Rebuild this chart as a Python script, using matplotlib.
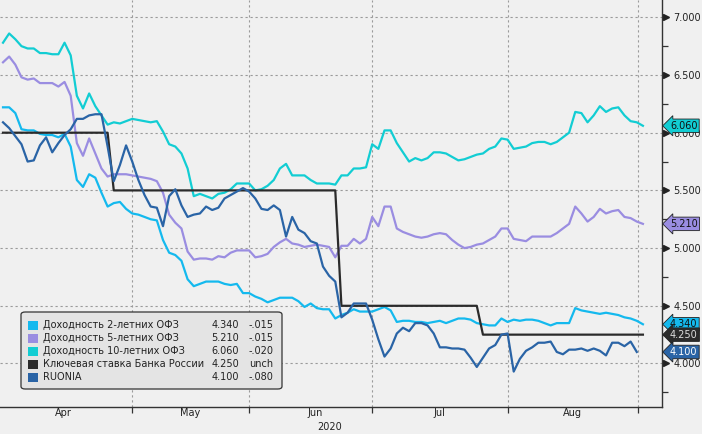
import numpy as np
import matplotlib.pyplot as plt
from matplotlib.patches import FancyBboxPatch, Rectangle

# trading days Apr-Aug 2020, one value per day
ofz_2y = [6.22, 6.22, 6.17, 6.03, 6.02, 6.02, 5.99, 5.98, 5.98, 5.96,
          5.99, 5.88, 5.59, 5.53, 5.64, 5.61, 5.48, 5.36, 5.39, 5.40,
          5.34, 5.30, 5.29, 5.27, 5.25, 5.24, 5.07, 4.96, 4.94, 4.89,
          4.73, 4.67, 4.69, 4.71, 4.71, 4.71, 4.69, 4.68, 4.69, 4.61,
          4.61, 4.58, 4.56, 4.53, 4.55, 4.57, 4.57, 4.57, 4.54, 4.49,
          4.52, 4.48, 4.47, 4.47, 4.39, 4.42, 4.44, 4.47, 4.45, 4.45,
          4.45, 4.47, 4.49, 4.46, 4.36, 4.37, 4.37, 4.36, 4.36, 4.35,
          4.36, 4.37, 4.35, 4.37, 4.39, 4.39, 4.38, 4.35, 4.34, 4.33,
          4.33, 4.39, 4.36, 4.38, 4.37, 4.38, 4.38, 4.37, 4.35, 4.33,
          4.35, 4.35, 4.35, 4.48, 4.46, 4.45, 4.44, 4.43, 4.44, 4.43,
          4.42, 4.40, 4.39, 4.37, 4.34]
ofz_5y = [6.61, 6.66, 6.59, 6.48, 6.46, 6.47, 6.43, 6.43, 6.43, 6.40,
          6.44, 6.32, 5.91, 5.80, 5.95, 5.82, 5.69, 5.62, 5.64, 5.64,
          5.64, 5.63, 5.62, 5.61, 5.60, 5.58, 5.48, 5.29, 5.22, 5.17,
          4.97, 4.90, 4.91, 4.91, 4.90, 4.93, 4.92, 4.96, 4.98, 4.98,
          4.98, 4.92, 4.93, 4.95, 5.01, 5.05, 5.08, 5.04, 5.03, 5.01,
          5.02, 5.03, 5.02, 5.01, 4.92, 5.02, 5.02, 5.08, 5.04, 5.08,
          5.27, 5.19, 5.36, 5.36, 5.17, 5.14, 5.12, 5.10, 5.09, 5.10,
          5.12, 5.13, 5.12, 5.07, 5.03, 5.00, 5.01, 5.03, 5.04, 5.07,
          5.10, 5.17, 5.17, 5.08, 5.07, 5.06, 5.10, 5.10, 5.10, 5.10,
          5.13, 5.17, 5.21, 5.36, 5.30, 5.23, 5.27, 5.34, 5.30, 5.32,
          5.33, 5.27, 5.26, 5.23, 5.21]
ofz_10y = [6.78, 6.86, 6.81, 6.75, 6.73, 6.73, 6.69, 6.69, 6.68, 6.68,
           6.78, 6.67, 6.32, 6.21, 6.34, 6.23, 6.15, 6.07, 6.09, 6.08,
           6.10, 6.12, 6.11, 6.10, 6.09, 6.10, 6.01, 5.90, 5.88, 5.82,
           5.69, 5.45, 5.47, 5.45, 5.43, 5.47, 5.48, 5.51, 5.56, 5.56,
           5.56, 5.50, 5.51, 5.54, 5.59, 5.69, 5.73, 5.63, 5.63, 5.63,
           5.59, 5.56, 5.56, 5.56, 5.55, 5.63, 5.63, 5.69, 5.69, 5.70,
           5.90, 5.86, 6.02, 6.02, 5.91, 5.83, 5.75, 5.78, 5.76, 5.78,
           5.83, 5.83, 5.82, 5.79, 5.76, 5.77, 5.79, 5.81, 5.82, 5.86,
           5.88, 5.95, 5.94, 5.86, 5.87, 5.88, 5.91, 5.92, 5.92, 5.90,
           5.92, 5.96, 6.00, 6.18, 6.17, 6.09, 6.15, 6.23, 6.18, 6.21,
           6.22, 6.15, 6.10, 6.09, 6.06]
key_rate = [6.00] * 18 + [5.50] * 37 + [4.50] * 23 + [4.25] * 27
ruonia = [6.09, 6.04, 5.97, 5.90, 5.75, 5.76, 5.89, 5.96, 5.83, 5.91,
          5.98, 6.03, 6.12, 6.12, 6.15, 6.16, 6.16, 5.88, 5.58, 5.72,
          5.89, 5.75, 5.59, 5.46, 5.36, 5.35, 5.19, 5.45, 5.51, 5.37,
          5.27, 5.29, 5.30, 5.36, 5.33, 5.35, 5.43, 5.46, 5.49, 5.52,
          5.49, 5.43, 5.34, 5.33, 5.37, 5.33, 5.10, 5.27, 5.16, 5.13,
          5.06, 5.04, 4.84, 4.76, 4.71, 4.40, 4.44, 4.52, 4.52, 4.52,
          4.38, 4.21, 4.06, 4.13, 4.26, 4.31, 4.28, 4.35, 4.35, 4.33,
          4.26, 4.14, 4.14, 4.13, 4.13, 4.12, 4.05, 3.97, 4.05, 4.13,
          4.16, 4.25, 4.26, 3.93, 4.04, 4.11, 4.14, 4.18, 4.18, 4.19,
          4.10, 4.08, 4.12, 4.12, 4.13, 4.11, 4.13, 4.11, 4.07, 4.18,
          4.18, 4.15, 4.19, 4.10, np.nan]

labels = ["Доходность 2-летних ОФЗ", "Доходность 5-летних ОФЗ",
          "Доходность 10-летних ОФЗ", "Ключевая ставка Банка России", "RUONIA"]
last_values = [4.340, 5.210, 6.060, 4.250, 4.100]
changes = ["-.015", "-.015", "-.020", "unch", "-.080"]
colors = ["#14B9EE", "#9A8DE1", "#12CDD3", "#2B2B2B", "#2A64A6"]
tag_text_colors = ["#111111", "#111111", "#111111", "#DDDDDD", "#FFFFFF"]

month_starts = [21, 40, 60, 82, 103.2]
month_names = ["Apr", "May", "Jun", "Jul", "Aug"]
month_centers = [9.8, 30.4, 50.7, 71.0, 92.5]

BG = "#F0F0F0"
W, H = 702, 434

fig = plt.figure(figsize=(W / 100, H / 100), dpi=100, facecolor=BG)
ax = fig.add_axes([0, 27 / H, 662 / W, 407 / H], facecolor=BG)

series = [ofz_2y, ofz_5y, ofz_10y, key_rate, ruonia]
for vals, c in zip(series, colors):
    ax.plot(np.arange(len(vals)), vals, color=c, lw=1.6, solid_joinstyle="round")

ax.set_xlim(-0.49, 107.1)
ax.set_ylim(3.623, 7.150)

for s in ["top", "left"]:
    ax.spines[s].set_visible(False)
for s in ["right", "bottom"]:
    ax.spines[s].set_color("#333333")
    ax.spines[s].set_linewidth(1.0)

yt = [4.0, 4.5, 5.0, 5.5, 6.0, 6.5, 7.0]
ax.yaxis.tick_right()
ax.set_yticks(yt)
ax.set_yticklabels([f"{v:.3f}" for v in yt])
ax.set_yticks(np.arange(3.75, 7.0, 0.5), minor=True)
ax.tick_params(axis="y", which="major", length=0, pad=8, labelsize=7,
               labelcolor="#222222")
ax.tick_params(axis="y", which="minor", length=4, width=0.9, color="#333333")
ax.plot(np.full(len(yt), 1.0065), yt, ls="none", marker=">", ms=4.5,
        color="#222222", transform=ax.get_yaxis_transform(), clip_on=False)

ax.set_xticks(month_starts)
ax.set_xticklabels([])
ax.tick_params(axis="x", length=4, width=0.9, color="#333333")
ax.grid(True, which="major", color="#9A9A9A", lw=0.8, ls=(0, (2, 2.5)))

for pos, name in zip(month_centers, month_names):
    ax.text(pos, -6 / 407, name, transform=ax.get_xaxis_transform(),
            ha="center", va="center", fontsize=7, color="#222222")
ax.text(53.1, -20 / 407, "2020", transform=ax.get_xaxis_transform(),
        ha="center", va="center", fontsize=7, color="#222222")

# value tags on the right axis
order = [2, 1, 3, 0, 4]
for i in order:
    ax.text(1.012, last_values[i], f"{last_values[i]:.3f}",
            transform=ax.get_yaxis_transform(), ha="left", va="center",
            fontsize=7, color=tag_text_colors[i], clip_on=False, zorder=5 + i,
            bbox=dict(boxstyle="larrow,pad=0.18", fc=colors[i], ec="#222222",
                      lw=0.6))

# legend box
box = FancyBboxPatch((21 / W, 1 - 389 / H), 261 / W, 77 / H,
                     boxstyle="round,pad=0,rounding_size=0.006",
                     transform=fig.transFigure, fc="#E4E4E4", ec="#333333",
                     lw=0.9, zorder=10)
fig.patches.append(box)
row_y = [325, 338, 351, 364, 377]
for ry, lab, val, chg, c in zip(row_y, labels, last_values, changes, colors):
    fig.patches.append(Rectangle((28 / W, 1 - (ry + 5) / H), 10 / W, 9 / H,
                                 transform=fig.transFigure, fc=c, ec="none",
                                 zorder=11))
    fig.text(43 / W, 1 - ry / H, lab, fontsize=7, color="#222222",
             va="center", ha="left", zorder=12)
    fig.text(239 / W, 1 - ry / H, f"{val:.3f}", fontsize=7, color="#222222",
             va="center", ha="right", zorder=12)
    fig.text(249 / W, 1 - ry / H, chg, fontsize=7, color="#222222",
             va="center", ha="left", zorder=12)

fig.savefig("out.png", dpi=100, facecolor=BG)
